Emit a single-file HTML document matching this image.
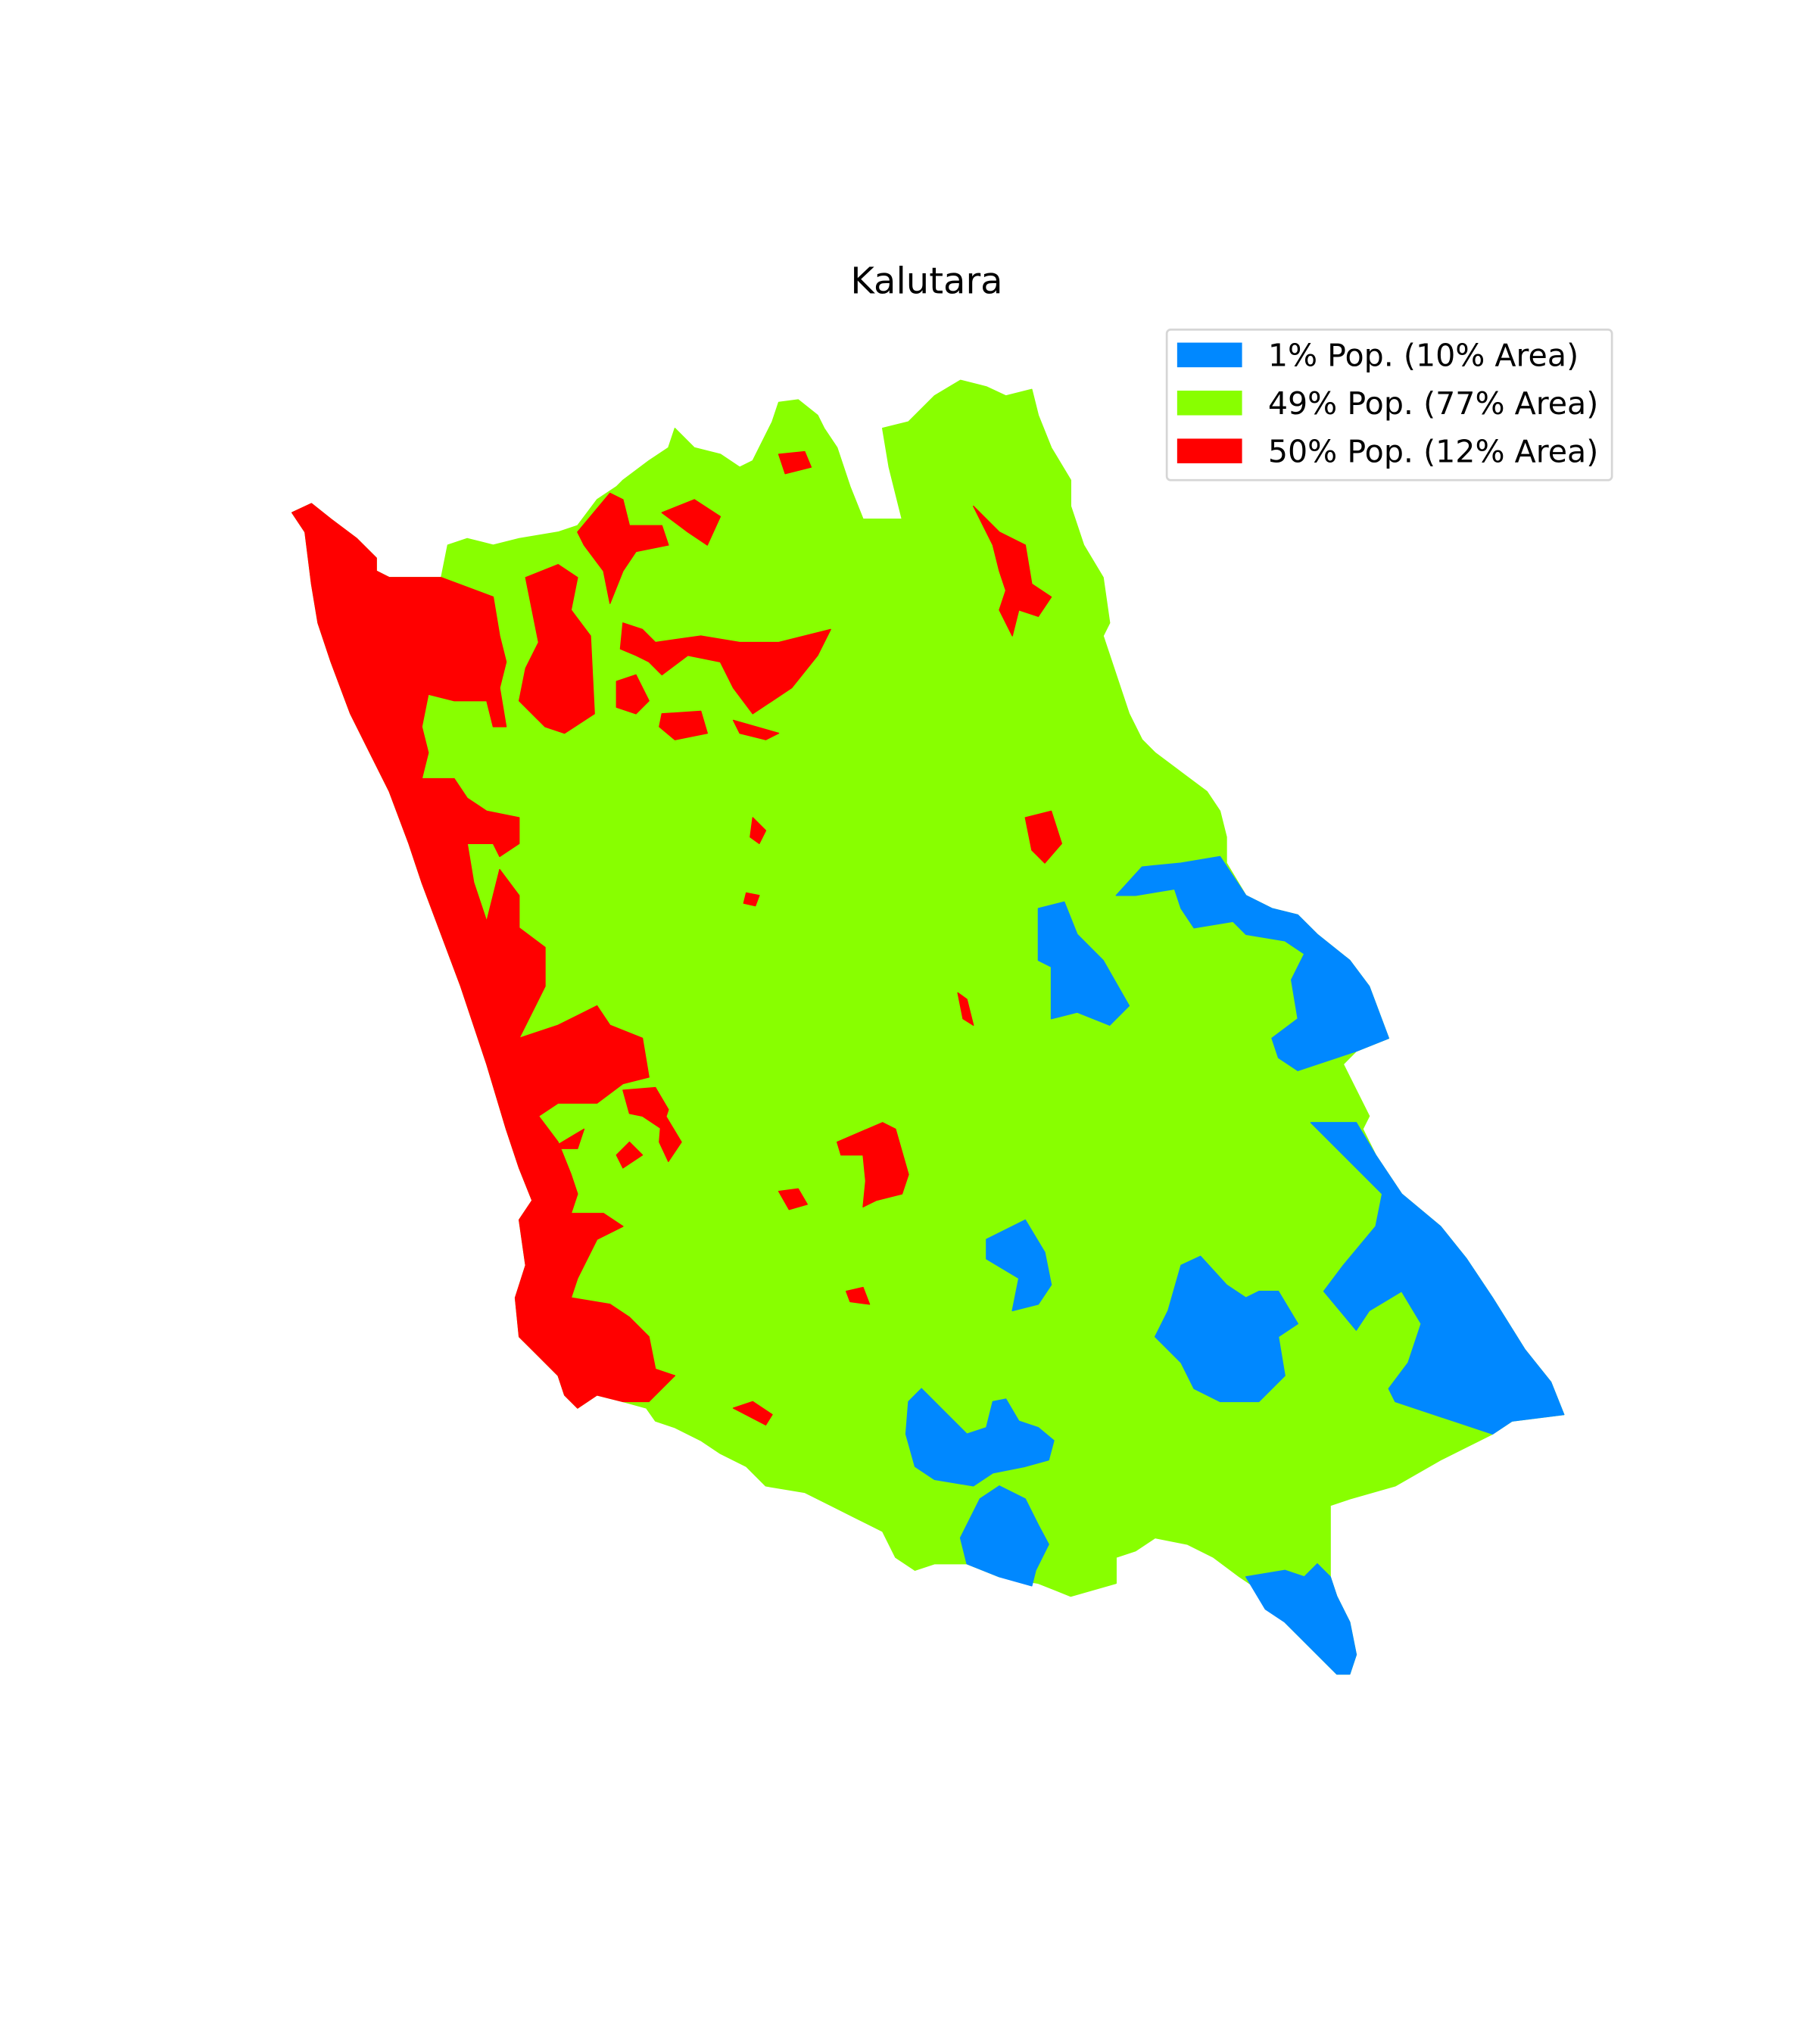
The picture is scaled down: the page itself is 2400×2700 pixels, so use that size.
<!DOCTYPE html>
<html><head><meta charset="utf-8"><style>
html,body{margin:0;padding:0;background:#fff;}
svg{display:block;}
text{font-family:"DejaVu Sans","Liberation Sans",sans-serif;}
</style></head><body>
<svg id="chart" width="2400" height="2700" viewBox="0 0 1400 1575" xmlns="http://www.w3.org/2000/svg">
<rect width="1400" height="1575" fill="#fff"/>
<text x="714" y="226" text-anchor="middle" font-size="28" fill="#000">Kalutara</text>
<g id="map"></g>
<g id="legend"></g>
</svg>
<script>
const categories = ["1% Pop. (10% Area)", "49% Pop. (77% Area)", "50% Pop. (12% Area)"];
const colors = ["#0088ff", "#88ff00", "#ff0000"];
const outline = "225,395 240,388 255,400 275,415 290,430 290,440 300,445 340,445 345,420 360,415 380,420 400,415 430,410 445,405 460,385 475,375 480,370 500,355 515,345 520,330 535,345 555,350 570,360 580,355 595,325 600,310 615,308 630,320 635,330 645,345 655,375 665,400 695,400 690,380 685,360 680,330 700,325 720,305 740,293 760,298 775,305 795,300 800,320 810,345 825,370 825,390 835,420 850,445 855,480 850,490 860,520 870,550 880,570 890,580 910,595 930,610 940,625 945,645 945,665 960,690 980,700 1000,705 1015,720 1040,740 1055,760 1070,800 1045,810 1035,820 1045,840 1055,860 1050,870 1060,890 1080,920 1110,945 1130,970 1150,1000 1175,1040 1195,1065 1205,1090 1165,1095 1150,1105 1130,1115 1110,1125 1075,1145 1040,1155 1025,1160 1025,1215 1030,1230 1040,1250 1045,1275 1040,1290 1030,1290 1010,1270 990,1250 970,1225 955,1215 935,1200 915,1190 890,1185 875,1195 860,1200 860,1220 825,1230 800,1220 770,1215 745,1205 720,1205 705,1210 690,1200 680,1180 660,1170 640,1160 620,1150 590,1145 575,1130 555,1120 540,1110 520,1100 505,1095 498,1085 480,1080 460,1075 445,1085 435,1075 430,1060 415,1045 400,1030 397,1000 405,975 400,940 410,925 400,900 390,870 375,820 365,790 355,760 340,720 325,680 315,650 300,610 285,580 270,550 255,510 245,480 240,450 235,410";
const blueRegions = [
"860,690 880,668 910,665 940,660 960,690 980,700 1000,705 1015,720 1040,740 1055,760 1070,800 1045,810 1000,825 985,815 980,800 1000,785 995,755 1005,735 990,725 960,720 950,710 920,715 910,700 905,685 875,690",
"800,700 820,695 830,720 850,740 870,775 855,790 830,780 810,785 810,745 800,740",
"1010,865 1045,865 1060,890 1080,920 1110,945 1130,970 1150,1000 1175,1040 1195,1065 1205,1090 1165,1095 1150,1105 1120,1095 1075,1080 1070,1070 1085,1050 1095,1020 1080,995 1055,1010 1045,1025 1020,995 1035,975 1060,945 1065,920 1040,895",
"760,955 790,940 805,965 810,990 800,1005 780,1010 785,985 760,970",
"910,975 925,968 945,990 960,1000 970,995 985,995 1000,1020 985,1030 990,1060 970,1080 940,1080 920,1070 910,1050 890,1030 900,1010",
"700,1080 710,1070 725,1085 745,1105 760,1100 765,1080 775,1078 785,1095 800,1100 812,1110 808,1125 790,1130 765,1135 750,1145 720,1140 705,1130 698,1105",
"740,1185 755,1155 770,1145 790,1155 800,1175 808,1190 798,1210 795,1222 770,1215 745,1205",
"960,1215 990,1210 1005,1215 1015,1205 1025,1215 1030,1230 1040,1250 1045,1275 1040,1290 1030,1290 1010,1270 990,1250 975,1240"
];
const redRegions = [
"225,395 240,388 255,400 275,415 290,430 290,440 300,445 340,445 380,460 385,490 390,510 385,530 390,560 380,560 375,540 350,540 330,535 325,560 330,580 325,600 350,600 360,615 375,625 400,630 400,650 385,660 380,650 360,650 365,680 375,710 385,670 400,690 400,715 420,730 420,760 410,780 400,800 430,790 460,775 470,790 495,800 500,830 480,835 460,850 430,850 415,860 430,880 440,905 445,920 440,935 465,935 480,945 460,955 445,985 440,1000 470,1005 485,1015 500,1030 505,1055 520,1060 500,1080 480,1080 460,1075 445,1085 435,1075 430,1060 415,1045 400,1030 397,1000 405,975 400,940 410,925 400,900 390,870 375,820 365,790 355,760 340,720 325,680 315,650 300,610 285,580 270,550 255,510 245,480 240,450 235,410",
"445,410 470,380 480,385 485,405 510,405 515,420 490,425 480,440 470,465 465,440 450,420",
"510,395 535,385 555,398 545,420 530,410",
"405,445 430,435 445,445 440,470 455,490 458,550 435,565 420,560 400,540 405,515 415,495 410,470",
"480,480 495,485 505,495 540,490 570,495 600,495 640,485 630,505 610,530 580,550 565,530 555,510 530,505 510,520 500,510 490,505 478,500",
"475,525 490,520 500,540 490,550 475,545",
"510,550 540,548 545,565 520,570 508,560",
"565,555 600,565 590,570 570,565",
"750,390 770,410 790,420 795,450 810,460 800,475 785,470 780,490 770,470 775,455 770,440 765,420",
"600,350 620,348 625,360 605,365",
"790,630 810,625 818,650 805,665 795,655",
"580,630 590,640 585,650 578,645",
"575,688 585,690 582,698 573,696",
"738,765 745,770 750,790 742,785",
"645,880 680,865 690,870 700,905 695,920 675,925 665,930 667,910 665,890 648,890",
"600,918 615,916 622,928 608,932",
"652,995 665,992 670,1005 655,1003",
"565,1085 580,1080 595,1090 590,1098",
"480,840 505,838 515,855 510,870 495,860 485,858",
"510,855 525,880 515,895 508,880",
"485,880 495,890 480,900 475,890",
"425,885 450,870 445,885"
];
const NS = "http://www.w3.org/2000/svg";
const map = document.getElementById('map');
function poly(pts, fill, name) {
  const p = document.createElementNS(NS, 'polygon');
  p.setAttribute('points', pts);
  p.setAttribute('fill', fill);
  p.setAttribute('stroke', fill);
  p.setAttribute('stroke-width', '0.8');
  p.setAttribute('stroke-linejoin', 'round');
  
  
  map.appendChild(p);
}
poly(outline, colors[1], 'region-49pct-pop');
blueRegions.forEach(function (r) { poly(r, colors[0], 'region-1pct-pop'); });
redRegions.forEach(function (r) { poly(r, colors[2], 'region-50pct-pop'); });

const lg = document.getElementById('legend');
const box = document.createElementNS(NS, 'rect');
box.setAttribute('x', 899); box.setAttribute('y', 254);
box.setAttribute('width', 343); box.setAttribute('height', 116);
box.setAttribute('rx', 3); box.setAttribute('fill', '#fff');
box.setAttribute('stroke', '#d6d6d6'); box.setAttribute('stroke-width', 1.6);


lg.appendChild(box);
categories.forEach(function (c, i) {
  const y = 264 + i * 37;
  const sw = document.createElementNS(NS, 'rect');
  sw.setAttribute('x', 907); sw.setAttribute('y', y);
  sw.setAttribute('width', 50); sw.setAttribute('height', 19);
  sw.setAttribute('fill', colors[i]);
  
  
  lg.appendChild(sw);
  const t = document.createElementNS(NS, 'text');
  t.setAttribute('x', 977); t.setAttribute('y', y + 18);
  t.setAttribute('font-size', '24');
  t.textContent = c;
  
  
  lg.appendChild(t);
});
</script>
</body></html>
